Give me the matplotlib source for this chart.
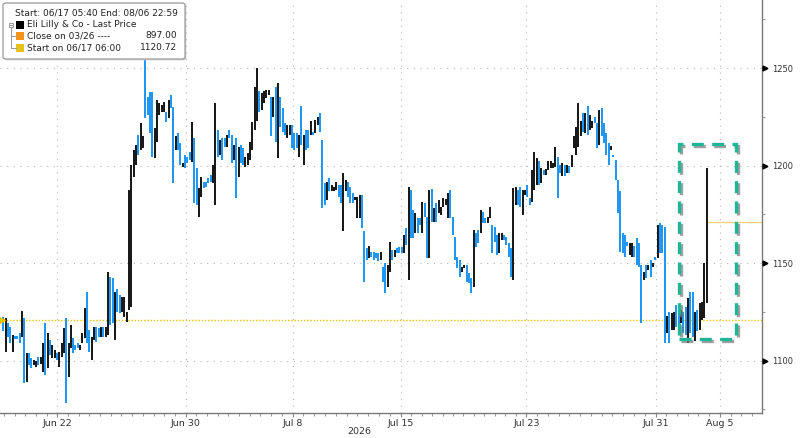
import numpy as np
import matplotlib.pyplot as plt
from matplotlib.patches import Rectangle, FancyBboxPatch
from matplotlib.lines import Line2D
import matplotlib.patheffects as pe

# bar highs / lows, one per bar
highs = [
    1122.6, 1121.8, 1119.2, 1117.5, 1113.2, 1112.7, 1112.7, 1114.1, 1125.5, 1121.8,
    1103.8, 1103.8, 1101.3, 1100.4, 1100.1, 1101.8, 1101.8, 1109.0, 1119.2, 1114.1,
    1110.7, 1108.1, 1105.5, 1103.8, 1104.7, 1109.0, 1116.6, 1121.8, 1109.0, 1118.4,
    1111.5, 1108.1, 1109.0, 1108.1, 1114.1, 1126.9, 1135.5, 1115.8, 1112.4, 1117.5,
    1117.5, 1116.6, 1117.2, 1117.5, 1117.5, 1145.7, 1143.2, 1142.3, 1135.5, 1136.7,
    1133.7, 1132.9, 1132.9, 1125.2,
    1187.6, 1200.4, 1208.1, 1210.7, 1215.8, 1221.8, 1215.0, 1254.3, 1235.5, 1238.0,
    1238.0, 1219.2, 1233.8, 1232.0, 1231.2, 1232.9, 1227.8, 1233.8, 1236.3, 1230.3,
    1215.0, 1216.7, 1211.5, 1201.3, 1205.6, 1204.7, 1207.3, 1222.6, 1214.1, 1198.7,
    1188.5, 1194.4, 1191.9, 1191.9, 1193.6, 1195.3, 1200.4, 1232.0, 1218.4, 1213.3,
    1214.1, 1214.1, 1215.8, 1218.4, 1215.8, 1210.7, 1214.1, 1209.8, 1210.7, 1209.0,
    1204.7, 1206.4, 1212.4, 1222.6,
    1240.6, 1250.0, 1238.1, 1237.2, 1238.1, 1238.9, 1238.9, 1235.5, 1235.5, 1240.6,
    1242.3, 1235.5, 1229.5, 1221.8, 1221.0, 1221.0, 1221.0, 1216.7, 1216.7, 1215.8,
    1230.4, 1215.8, 1218.4, 1218.4, 1222.7, 1217.5, 1223.5, 1225.2, 1227.0, 1213.3,
    1191.1, 1191.9, 1193.6, 1190.2, 1189.3, 1191.9, 1190.2, 1190.2, 1196.2, 1192.8,
    1191.9, 1189.3, 1185.9, 1184.2, 1184.2, 1185.1, 1185.1, 1166.3, 1157.7, 1158.6,
    1156.0, 1156.0, 1155.2, 1155.2, 1156.0, 1148.3,
    1150.0, 1149.1, 1161.1, 1156.8, 1156.8, 1157.6, 1158.2, 1158.2, 1164.5, 1167.9,
    1189.3, 1187.6, 1177.3, 1175.6, 1173.1, 1173.1, 1181.6, 1180.7, 1173.9, 1187.6,
    1187.9, 1178.2, 1180.7, 1182.4, 1179.0, 1183.3, 1182.8, 1185.8, 1187.6, 1173.9,
    1163.6, 1153.4, 1151.7, 1148.2, 1149.1, 1149.1, 1144.8, 1142.3, 1167.0, 1165.3,
    1167.0, 1177.3, 1176.4, 1173.0, 1173.9, 1179.0, 1169.6, 1168.8, 1164.5, 1165.3,
    1165.3, 1164.5, 1163.6, 1160.2, 1157.6, 1188.4,
    1189.3, 1187.6, 1189.3, 1187.6, 1187.6, 1190.2, 1183.3, 1197.9, 1207.3, 1203.9,
    1202.2, 1198.7, 1197.9, 1198.2, 1202.2, 1202.5, 1201.3, 1209.8, 1204.7, 1200.4,
    1201.3, 1200.4, 1200.4, 1199.9, 1205.6, 1215.0, 1220.1, 1232.1, 1222.7, 1226.9,
    1226.9, 1230.4, 1226.1, 1222.7, 1225.2, 1221.8, 1228.6, 1229.5, 1221.8, 1216.7,
    1211.6, 1210.2, 1205.6, 1203.0, 1192.8, 1186.8, 1165.4, 1164.5, 1161.1, 1160.3,
    1160.3, 1158.6, 1162.8, 1160.3, 1149.2, 1145.7,
    1149.2, 1149.2, 1151.7, 1150.0, 1153.4, 1169.7, 1170.5, 1169.7, 1168.8, 1122.7,
    1125.2, 1124.4, 1125.2, 1128.7, 1126.1, 1126.1, 1125.2, 1127.8, 1132.1, 1135.5,
    1135.5, 1125.2, 1126.1, 1129.5, 1129.9, 1150.0, 1198.7,
]
lows = [
    1115.0, 1104.7, 1112.4, 1109.0, 1104.7, 1111.0, 1111.0, 1109.0, 1112.4, 1088.5,
    1089.3, 1097.8, 1096.1, 1097.8, 1097.0, 1097.8, 1098.4, 1094.4, 1092.7, 1096.1,
    1103.0, 1101.3, 1101.3, 1100.4, 1097.0, 1102.1, 1103.8, 1078.2, 1091.9, 1106.4,
    1103.8, 1105.5, 1106.4, 1105.5, 1109.0, 1111.5, 1109.0, 1104.7, 1100.4, 1110.7,
    1109.8, 1112.4, 1112.4, 1112.4, 1112.4, 1113.2, 1118.4, 1119.2, 1110.7, 1125.2,
    1124.3, 1125.2, 1122.6, 1120.1,
    1126.1, 1127.8, 1194.4, 1200.4, 1205.6, 1208.1, 1209.0, 1224.4, 1226.1, 1216.7,
    1204.7, 1203.8, 1212.4, 1226.1, 1227.8, 1227.8, 1222.6, 1224.4, 1229.5, 1191.0,
    1208.1, 1208.1, 1200.4, 1199.6, 1198.7, 1201.3, 1203.0, 1202.1, 1180.8, 1179.9,
    1173.9, 1184.2, 1188.5, 1189.3, 1191.0, 1191.9, 1191.0, 1179.9, 1204.7, 1205.6,
    1203.0, 1209.8, 1209.8, 1214.1, 1201.3, 1203.0, 1183.3, 1194.4, 1201.3, 1200.4,
    1199.6, 1200.4, 1203.0, 1208.1,
    1218.4, 1222.7, 1227.8, 1228.7, 1232.1, 1234.6, 1236.4, 1215.0, 1225.2, 1212.4,
    1203.9, 1220.1, 1217.5, 1215.8, 1214.1, 1215.8, 1209.0, 1208.1, 1209.0, 1204.7,
    1210.7, 1200.5, 1208.1, 1209.0, 1215.8, 1215.8, 1216.7, 1221.0, 1217.5, 1178.2,
    1180.0, 1182.5, 1186.8, 1186.8, 1186.8, 1187.6, 1184.2, 1180.8, 1166.3, 1186.8,
    1184.2, 1180.8, 1180.8, 1182.5, 1173.1, 1173.1, 1168.0, 1140.6, 1151.7, 1152.6,
    1153.4, 1151.7, 1152.6, 1150.9, 1151.7, 1140.6,
    1134.6, 1138.0, 1145.7, 1151.7, 1153.4, 1155.1, 1155.4, 1155.4, 1155.1, 1159.4,
    1141.4, 1162.8, 1162.8, 1165.3, 1165.3, 1169.6, 1165.3, 1173.9, 1152.5, 1152.5,
    1171.3, 1171.3, 1171.3, 1175.6, 1174.7, 1179.0, 1179.9, 1173.0, 1173.0, 1164.5,
    1151.7, 1147.4, 1143.1, 1145.7, 1147.4, 1140.5, 1139.7, 1134.6, 1138.0, 1158.5,
    1160.2, 1165.3, 1170.5, 1170.5, 1170.5, 1173.0, 1155.1, 1161.1, 1154.2, 1155.1,
    1161.9, 1161.9, 1159.4, 1153.4, 1143.1, 1141.4,
    1179.9, 1179.9, 1179.1, 1174.8, 1185.1, 1184.2, 1179.9, 1181.6, 1187.6, 1190.2,
    1190.2, 1191.0, 1195.3, 1195.3, 1197.9, 1198.7, 1198.7, 1199.6, 1183.3, 1196.2,
    1194.5, 1194.5, 1196.2, 1196.2, 1199.6, 1209.0, 1205.6, 1209.8, 1215.0, 1217.5,
    1216.7, 1215.8, 1218.4, 1219.2, 1221.8, 1209.0, 1210.7, 1215.0, 1211.6, 1205.6,
    1200.4, 1208.1, 1204.7, 1192.8, 1175.6, 1156.0, 1155.1, 1153.4, 1158.6, 1154.3,
    1153.4, 1153.4, 1149.2, 1148.3, 1119.3, 1141.5,
    1142.3, 1146.6, 1143.2, 1148.3, 1151.7, 1152.6, 1155.1, 1155.1, 1109.0, 1114.1,
    1109.0, 1115.8, 1115.8, 1117.5, 1115.8, 1119.3, 1114.1, 1113.3, 1109.0, 1114.1,
    1112.4, 1109.9, 1115.0, 1115.8, 1121.0, 1121.8, 1129.5,
]
# k = up bar (black), b = down bar (blue)
direction = (
    "bkbbkbbbkb" "kbbkkbkkbk" "bkkbkkkbkk" "bbbkkkbbkk" "bbkbkkbbkb" "bkkk"
    "kkkkbkkbbb" "bkkkkkbkbb" "kbbkbbbkbb" "kkbbbbkkbk" "bbkbbkbkbb" "kkkk"
    "kkbkkkkbkb" "kbbbkkbbbk" "bkbbkbkkbb" "bkbkkkbbkk" "bbbkkkbbbk" "bbbbkb"
    "bkkbkbbbkb" "kbbkbbkbbk" "bkbkkkkkbb" "bbbkkbbbkb" "bkbbkkbbbk" "kbbbbk"
    "kbbkkbbkkk" "bkbkkkkkbb" "kbkbkkkkkb" "kbkkbbkbbb" "bkbbbbbbbk" "kbbbbk"
    "bkbkbkbbbk" "bkkbbkbbkb" "bkbkkkk"
)

date_labels = ["Jun 22", "Jun 30", "Jul 8", "Jul 15", "Jul 23", "Jul 31", "Aug 5"]
date_pos = [23.2, 78.3, 124.2, 170.6, 224.6, 280.1, 307.7]   # bar index
trading_days = [6, 5, 5, 6, 6, 3]                            # between labels
start_level = 1120.72
last_marker = 1171.0
box_x = (290.1, 314.6)
box_y = (1111.0, 1211.2)

W, H = 800, 438
fig = plt.figure(figsize=(8, 4.38), dpi=100)
ax = fig.add_axes([0, 1 - 413 / H, 762 / W, 413 / H])

x = np.arange(len(highs))
cols = ['#1a1a1a' if c == 'k' else '#2196f3' for c in direction]
ax.vlines(x, lows, highs, colors=cols, linewidth=1.4, antialiased=False, zorder=3)

xmin, xmax = -1.42, 325.8
ax.set_xlim(xmin, xmax)
ax.set_ylim(1073.2, 1285.0)

# grid
grid_kw = dict(color='#b5b5b5', lw=0.8, ls=(0, (1, 5)), zorder=1)
for yv in [1100, 1150, 1200, 1250]:
    ax.axhline(yv, **grid_kw)
for xv in date_pos:
    ax.axvline(xv, **grid_kw)

# reference lines
ax.axhline(start_level, color='#e8c300', lw=1.0, ls=(0, (1, 1.3)), zorder=2)
ax.plot([xmin + 0.9], [start_level], marker='>', color='#e8c300', ms=4, clip_on=False, zorder=4)
ax.hlines(last_marker, len(highs) - 1, xmax, color='#f2d27a', lw=1.0, zorder=2)

# highlight box
rect = Rectangle((box_x[0], box_y[0]), box_x[1] - box_x[0], box_y[1] - box_y[0],
                 fill=False, ec='#1fb597', lw=2.4, ls=(0, (3.6, 2.5)), zorder=5,
                 path_effects=[pe.SimpleLineShadow(offset=(1.2, -1.2), shadow_color='#777777', alpha=0.7),
                               pe.Normal()])
ax.add_patch(rect)

# axes styling
for s in ['left', 'top']:
    ax.spines[s].set_visible(False)
for s in ['right', 'bottom']:
    ax.spines[s].set_color('#7a7a7a')
    ax.spines[s].set_linewidth(1.0)

ax.yaxis.tick_right()
ax.set_yticks([1100, 1150, 1200, 1250])
ax.set_yticks([1075, 1125, 1175, 1225, 1275], minor=True)
ax.tick_params(axis='y', which='major', length=0, pad=7, labelsize=6, labelcolor='#333333')
ax.tick_params(axis='y', which='minor', length=2.5, width=0.8, color='#999999', direction='out')
ax.plot(np.full(4, 1.004), [1100, 1150, 1200, 1250], '>', color='black', ms=3.5,
        transform=ax.get_yaxis_transform(), clip_on=False, zorder=6)

minor_x = []
for i, d in enumerate(trading_days):
    minor_x += list(np.linspace(date_pos[i], date_pos[i + 1], 2 * d + 1)[1:-1])
step0 = (date_pos[1] - date_pos[0]) / (2 * trading_days[0])
k = 1
while date_pos[0] - k * step0 > xmin:
    minor_x.append(date_pos[0] - k * step0)
    k += 1
step1 = (date_pos[-1] - date_pos[-2]) / (2 * trading_days[-1])
k = 1
while date_pos[-1] + k * step1 < xmax:
    minor_x.append(date_pos[-1] + k * step1)
    k += 1

ax.set_xticks(date_pos)
ax.set_xticklabels(date_labels)
ax.set_xticks(minor_x, minor=True)
ax.tick_params(axis='x', which='major', length=3, width=0.8, color='#888888', pad=1.5,
               labelsize=6.8, labelcolor='#333333')
ax.tick_params(axis='x', which='minor', length=2, width=0.8, color='#999999')
fig.text(359 / W, 1 - 431 / H, "2026", fontsize=6.8, color='#333333', ha='center', va='center')


# legend box in pixel coordinates
def fx(px):
    return px / W


def fy(py):
    return 1 - py / H


leg = FancyBboxPatch((fx(3), fy(59)), fx(182), 56 / H, boxstyle="round,pad=0,rounding_size=0.004",
                     transform=fig.transFigure, fc='white', ec='#9a9a9a', lw=0.9, zorder=10,
                     path_effects=[pe.SimplePatchShadow(offset=(1, -1), shadow_rgbFace='#cccccc', alpha=0.8),
                                   pe.Normal()])
fig.add_artist(leg)

txt = dict(fontsize=6.5, color='#222222', va='center', zorder=11)
fig.text(fx(15), fy(13.3), "Start: 06/17 05:40 End: 08/06 22:59", **txt)
rows = [("Eli Lilly & Co - Last Price", "", '#000000', 24.5),
        ("Close on 03/26 ----", "897.00", '#f39419', 35.8),
        ("Start on 06/17 06:00", "1120.72", '#e6c21c', 47.6)]
for label, val, c, yy in rows:
    fig.add_artist(Rectangle((fx(16), fy(yy + 4)), fx(8), 8 / H, transform=fig.transFigure,
                             fc=c, ec='none', zorder=11))
    fig.text(fx(27.3), fy(yy), label, **txt)
    if val:
        fig.text(fx(177), fy(yy), val, ha='right', **txt)

tree = '#9a9a9a'
fig.add_artist(Rectangle((fx(9.3), fy(26.5)), fx(4), 4 / H, transform=fig.transFigure,
                         fc='white', ec=tree, lw=0.7, zorder=11))
fig.add_artist(Line2D([fx(10.3), fx(12.3)], [fy(24.5), fy(24.5)], transform=fig.transFigure,
                      color=tree, lw=0.7, zorder=12))
fig.add_artist(Line2D([fx(11.3), fx(11.3)], [fy(26.5), fy(47.6)], transform=fig.transFigure,
                      color=tree, lw=0.7, zorder=11))
for yy in [35.8, 47.6]:
    fig.add_artist(Line2D([fx(11.3), fx(16)], [fy(yy), fy(yy)], transform=fig.transFigure,
                          color=tree, lw=0.7, zorder=11))

fig.savefig("out.png", dpi=100)
